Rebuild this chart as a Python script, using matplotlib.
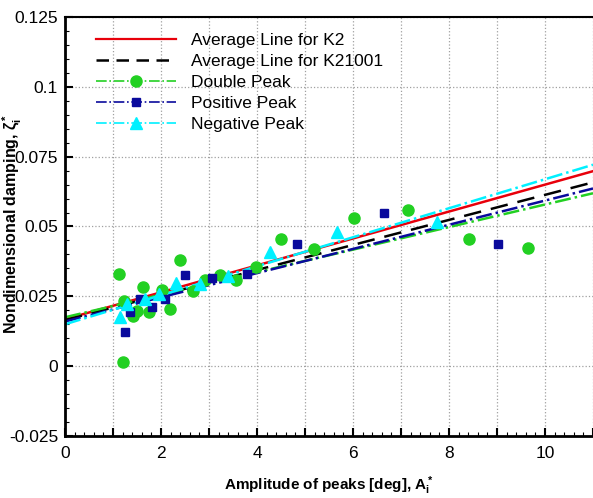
import numpy as np
import matplotlib
matplotlib.use('Agg')
import matplotlib.pyplot as plt
from matplotlib.lines import Line2D
from matplotlib.ticker import MultipleLocator, FuncFormatter

plt.rcParams['font.family'] = ['Liberation Sans', 'DejaVu Sans']
plt.rcParams['mathtext.fontset'] = 'custom'
plt.rcParams['mathtext.rm'] = 'Liberation Sans'
plt.rcParams['mathtext.it'] = 'Liberation Sans:italic'
plt.rcParams['mathtext.bf'] = 'Liberation Sans:bold'

# fit lines, evaluated at the ends of the x range
x_fit   = [0.0, 11.0]
k2_fit  = [0.0168, 0.0698]
k21_fit = [0.0165, 0.0658]
dbl_fit = [0.0175, 0.0619]
pos_fit = [0.0160, 0.0636]
neg_fit = [0.0150, 0.0721]

# measured peaks
dbl_x = [1.13, 1.20, 1.23, 1.41, 1.50, 1.62, 1.74, 2.02, 2.18, 2.40, 2.66, 2.91,
         3.22, 3.57, 3.97, 4.50, 5.18, 6.02, 7.15, 8.41, 9.65]
dbl_y = [0.0330, 0.0015, 0.0232, 0.0181, 0.0196, 0.0282, 0.0193, 0.0273, 0.0206,
         0.0380, 0.0268, 0.0310, 0.0328, 0.0307, 0.0356, 0.0456, 0.0420, 0.0530,
         0.0560, 0.0454, 0.0424]

pos_x = [1.24, 1.36, 1.57, 1.81, 2.09, 2.51, 3.07, 3.79, 4.84, 6.65, 9.03]
pos_y = [0.0123, 0.0195, 0.0239, 0.0213, 0.0239, 0.0325, 0.0316, 0.0331, 0.0437,
         0.0549, 0.0438]

neg_x = [1.15, 1.29, 1.67, 1.96, 2.32, 2.81, 3.39, 4.28, 5.67, 7.76]
neg_y = [0.0176, 0.0222, 0.0239, 0.0258, 0.0296, 0.0294, 0.0323, 0.0409, 0.0480,
         0.0515]

labels = ['Average Line for K2', 'Average Line for K21001', 'Double Peak',
          'Positive Peak', 'Negative Peak']

red = '#e8000b'
green = '#22d022'
blue = '#0a0a9c'
cyan = '#00f0ff'

fig = plt.figure(figsize=(5.93, 4.98), dpi=100)
ax = fig.add_axes([0.1096, 0.1245, 0.8904, 0.8414])

ax.plot(x_fit, k2_fit, '-', color=red, lw=1.8)
ax.plot(x_fit, k21_fit, '--', color='black', lw=1.8, dashes=(7, 4))
ax.plot(x_fit, dbl_fit, '-.', color=green, lw=1.8)
ax.plot(x_fit, pos_fit, '-.', color=blue, lw=1.8)
ax.plot(x_fit, neg_fit, '-.', color=cyan, lw=1.8)

ax.plot(dbl_x, dbl_y, 'o', color=green, ms=8, mec=green)
ax.plot(pos_x, pos_y, 's', color=blue, ms=6, mec=blue)
ax.plot(neg_x, neg_y, '^', color=cyan, ms=8, mec=cyan)

handles = [
    Line2D([], [], color=red, lw=1.6, ls='-'),
    Line2D([], [], color='black', lw=1.8, ls='--', dashes=(5, 3)),
    Line2D([], [], color=green, lw=1.2, ls='-.', marker='o', ms=8),
    Line2D([], [], color=blue, lw=1.2, ls='-.', marker='s', ms=6),
    Line2D([], [], color=cyan, lw=1.2, ls='-.', marker='^', ms=8),
]
ax.legend(handles, labels, loc='upper left', frameon=False, fontsize=12.5,
          handlelength=4.6, handletextpad=0.85, labelspacing=0.33,
          borderpad=0, borderaxespad=0,
          bbox_to_anchor=(0.059, 0.962), numpoints=1)

ax.set_xlim(0, 11)
ax.set_ylim(-0.025, 0.125)
ax.xaxis.set_major_locator(MultipleLocator(1))
ax.xaxis.set_minor_locator(MultipleLocator(0.2))
ax.xaxis.set_major_formatter(FuncFormatter(lambda v, p: '%d' % v if int(round(v)) % 2 == 0 else ''))
ax.yaxis.set_major_locator(MultipleLocator(0.025))
ax.yaxis.set_minor_locator(MultipleLocator(0.005))
ax.yaxis.set_major_formatter(FuncFormatter(lambda v, p: '0' if abs(v) < 1e-9 else ('%g' % round(v, 3))))

ax.tick_params(which='both', direction='in', top=False, right=False, labelsize=12.5)
ax.tick_params(which='major', length=6, width=1.5)
ax.tick_params(which='minor', length=3, width=0.8)
ax.tick_params(axis='x', pad=7)
ax.tick_params(axis='y', pad=5)

ax.grid(True, which='major', ls=':', color='#a0a0a0', lw=0.9)

for side in ['left', 'bottom']:
    ax.spines[side].set_linewidth(2)
ax.spines['top'].set_linewidth(1.5)
ax.spines['right'].set_visible(False)

ax.set_xlabel(r'Amplitude of peaks [deg], $\mathbf{A_i^*}$', fontsize=11, fontweight='bold')
ax.set_ylabel(r'Nondimensional damping, $\mathbf{\zeta_i^*}$', fontsize=11.5, fontweight='bold')
ax.xaxis.label.set_va('baseline')
ax.xaxis.set_label_coords(0.5, -0.13)
ax.yaxis.set_label_coords(-0.078, 0.506)

fig.savefig('out.png', dpi=100)
